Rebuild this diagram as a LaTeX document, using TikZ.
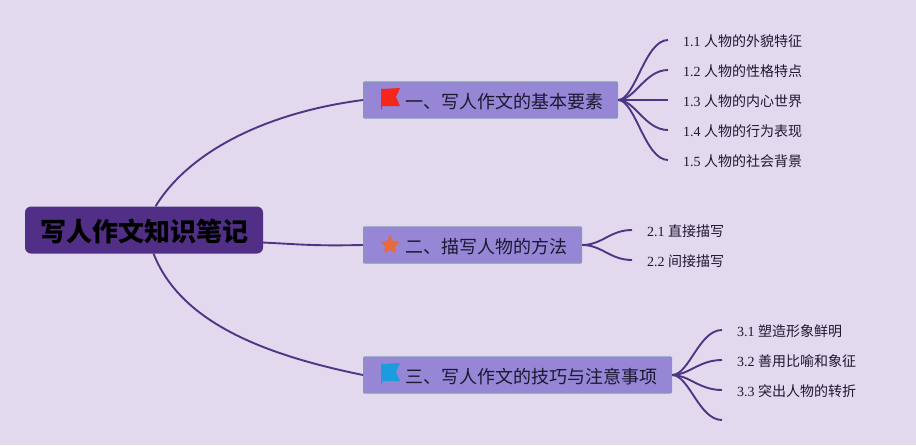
\documentclass[tikz,border=0pt]{standalone}
\usepackage{fontspec}
\setmainfont{Liberation Serif}
\newfontfamily\cjk{Noto Sans CJK SC}
\usetikzlibrary{shapes.geometric}
\definecolor{bgcol}{HTML}{E3D9EE}
\definecolor{rootcol}{HTML}{512F87}
\definecolor{topiccol}{HTML}{9785D6}
\definecolor{edgecol}{HTML}{7F9BB5}
\definecolor{linecol}{HTML}{4F3585}
\definecolor{inkcol}{HTML}{1C1830}
\definecolor{flagred}{HTML}{F5261A}
\definecolor{flagblue}{HTML}{1B9CDF}
\definecolor{starcol}{HTML}{E8693A}
\tikzset{
	rootbox/.style={fill=rootcol,rounded corners=6pt,minimum width=238pt,minimum height=47pt,inner sep=0pt,text height=27pt,text depth=4.2pt,text=black,font=\fontsize{26}{30}\selectfont\cjk\bfseries},
	topicbox/.style={draw=edgecol,line width=1.3pt,fill=topiccol,rounded corners=1pt,anchor=west,minimum height=36pt,inner xsep=14.4pt,inner ysep=0pt,text height=20pt,text depth=3pt,text=inkcol,font=\fontsize{18}{22}\selectfont\cjk},
	leafbox/.style={anchor=west,inner xsep=15pt,inner ysep=0pt,text height=15pt,text depth=1.8pt,text=inkcol,font=\fontsize{14}{17}\selectfont},
	conn/.style={draw=linecol,line width=1.9pt},
	flagicon/.pic={
		\fill[pic actions] (-9,-10) -- (10,-11) -- (6,-2) -- (10,7) -- (-8,7) -- (-8,10) -- (-9,10) -- cycle;
	}
}
\newcommand{\leaftext}[2]{#1 {\cjk #2}}
\newcommand{\topictext}[1]{\hspace{27pt}#1}
\begin{document}
\begin{tikzpicture}[x=1pt,y=-1pt]
	\useasboundingbox[fill=bgcol] (0,0) rectangle (916,445);
	\node[rootbox] (root) at (144,230) {写人作文知识笔记};
	% topics
	\node[topicbox] (topica) at (363,100) {\topictext{一、写人作文的基本要素}};
	\node[topicbox] (topicb) at (363,245) {\topictext{二、描写人物的方法}};
	\node[topicbox] (topicc) at (363,375) {\topictext{三、写人作文的技巧与注意事项}};
	\pic[fill=flagred] at (390,99) {flagicon};
	\pic[fill=flagblue] at (390,374) {flagicon};
	\node[star,star points=5,star point ratio=2.1,fill=starcol,draw=starcol,line width=1.5pt,line join=round,minimum size=17pt,inner sep=0pt] (staricon) at (390,245) {};
	% leaves
	\node[leafbox] (leafaa) at (668,40) {\leaftext{1.1}{人物的外貌特征}};
	\node[leafbox] (leafab) at (668,70) {\leaftext{1.2}{人物的性格特点}};
	\node[leafbox] (leafac) at (668,100) {\leaftext{1.3}{人物的内心世界}};
	\node[leafbox] (leafad) at (668,130) {\leaftext{1.4}{人物的行为表现}};
	\node[leafbox] (leafae) at (668,160) {\leaftext{1.5}{人物的社会背景}};
	\node[leafbox] (leafba) at (632,230) {\leaftext{2.1}{直接描写}};
	\node[leafbox] (leafbb) at (632,260) {\leaftext{2.2}{间接描写}};
	\node[leafbox] (leafca) at (722,330) {\leaftext{3.1}{塑造形象鲜明}};
	\node[leafbox] (leafcb) at (722,360) {\leaftext{3.2}{善用比喻和象征}};
	\node[leafbox] (leafcc) at (722,390) {\leaftext{3.3}{突出人物的转折}};
	\coordinate (leafcd) at (722,420);
	% connectors
	\draw[conn] (root.64) .. controls +(35,-57) and +(-93,12) .. (topica.west);
	\draw[conn] (root.-6) .. controls +(40,2) and +(-50,1) .. (topicb.west);
	\draw[conn] (root.-68) .. controls +(27,69) and +(-98,-20) .. (topicc.west);
	\foreach \leaf in {leafaa,leafab,leafac,leafad,leafae}
	\draw[conn] (topica.east) .. controls +(17,0) and +(-23,0) .. (\leaf.west);
	\foreach \leaf in {leafba,leafbb}
	\draw[conn] (topicb.east) .. controls +(20,0) and +(-22,0) .. (\leaf.west);
	\foreach \leaf in {leafca.west,leafcb.west,leafcc.west,leafcd}
	\draw[conn] (topicc.east) .. controls +(17,0) and +(-23,0) .. (\leaf);
\end{tikzpicture}
\end{document}
